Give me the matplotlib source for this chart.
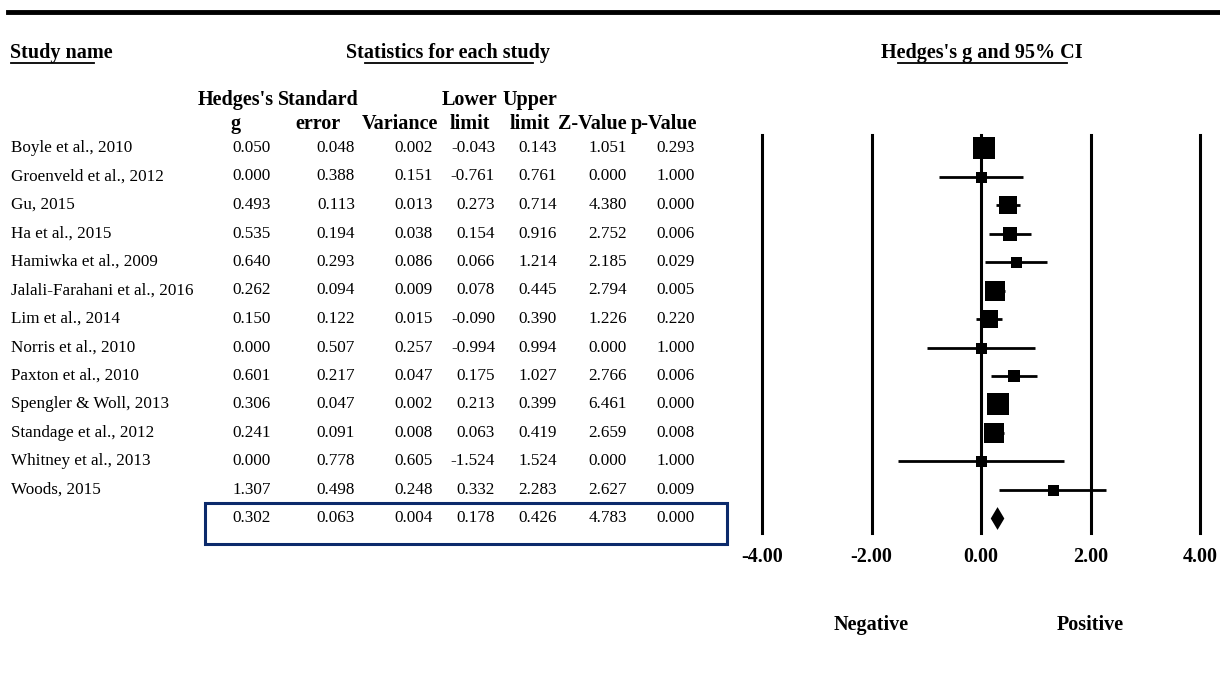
import numpy as np
import matplotlib
matplotlib.use("Agg")
import matplotlib.pyplot as plt
from matplotlib.lines import Line2D
from matplotlib.patches import Rectangle
from matplotlib.transforms import blended_transform_factory

# study level data
studies = ["Boyle et al., 2010", "Groenveld et al., 2012", "Gu, 2015", "Ha et al., 2015",
           "Hamiwka et al., 2009", "Jalali-Farahani et al., 2016", "Lim et al., 2014",
           "Norris et al., 2010", "Paxton et al., 2010", "Spengler & Woll, 2013",
           "Standage et al., 2012", "Whitney et al., 2013", "Woods, 2015"]
hedges_g = [0.050, 0.000, 0.493, 0.535, 0.640, 0.262, 0.150, 0.000, 0.601, 0.306, 0.241, 0.000, 1.307]
std_err = [0.048, 0.388, 0.113, 0.194, 0.293, 0.094, 0.122, 0.507, 0.217, 0.047, 0.091, 0.778, 0.498]
variance = [0.002, 0.151, 0.013, 0.038, 0.086, 0.009, 0.015, 0.257, 0.047, 0.002, 0.008, 0.605, 0.248]
lower = [-0.043, -0.761, 0.273, 0.154, 0.066, 0.078, -0.090, -0.994, 0.175, 0.213, 0.063, -1.524, 0.332]
upper = [0.143, 0.761, 0.714, 0.916, 1.214, 0.445, 0.390, 0.994, 1.027, 0.399, 0.419, 1.524, 2.283]
z_value = [1.051, 0.000, 4.380, 2.752, 2.185, 2.794, 1.226, 0.000, 2.766, 6.461, 2.659, 0.000, 2.627]
p_value = [0.293, 1.000, 0.000, 0.006, 0.029, 0.005, 0.220, 1.000, 0.006, 0.000, 0.008, 1.000, 0.009]
# pooled row: g, se, var, lower, upper, z, p
summary = [0.302, 0.063, 0.004, 0.178, 0.426, 4.783, 0.000]

col_heads = [("Hedges's", "g"), ("Standard", "error"), ("", "Variance"), ("Lower", "limit"),
             ("Upper", "limit"), ("", "Z-Value"), ("", "p-Value")]
ticks = [-4, -2, 0, 2, 4]
tick_labels = ["-4.00", "-2.00", "0.00", "2.00", "4.00"]

W, H = 1220, 695
def fx(px):
    return px / W
def fy(py):
    return 1 - py / H

plt.rcParams["font.family"] = ["Liberation Serif", "DejaVu Serif"]
fs_data = 12.3
fs_head = 14.5

fig = plt.figure(figsize=(12.2, 6.95), dpi=100)

# forest plot axes, rows are 0..13 (13 = pooled)
y_top, y_bot, row0, row_h = 135, 533, 148, 28.5
ax = fig.add_axes([fx(762), fy(y_bot), fx(1200) - fx(762), (y_bot - y_top) / H])
ax.set_xlim(-4, 4)
ax.set_ylim((y_bot - row0) / row_h, (y_top - row0) / row_h)
for s in ax.spines.values():
    s.set_visible(False)
ax.set_yticks([])
ax.set_xticks(ticks)
ax.set_xticklabels(tick_labels, fontweight="bold", fontsize=fs_head)
ax.tick_params(axis="x", length=0, pad=10)
for t in ticks:
    ax.axvline(t, color="k", lw=2.2, clip_on=False)

rows = np.arange(len(studies))
g = np.array(hedges_g)
se = np.array(std_err)

# random-effects (DerSimonian-Laird) weights set the square sizes
w = 1 / se**2
mu = np.sum(w * g) / w.sum()
Q = np.sum(w * (g - mu)**2)
tau2 = max(0, (Q - (len(g) - 1)) / (w.sum() - np.sum(w**2) / w.sum()))
w_re = 1 / (se**2 + tau2)
side_px = np.maximum(11, 3.4 * np.sqrt(w_re))

ax.hlines(rows, lower, upper, color="k", lw=2)
for i in rows:
    ax.plot(g[i], i, marker="s", ms=side_px[i] * 0.72, color="k", mew=0, ls="none")

n = len(studies)
ax.fill([summary[3], summary[0], summary[4], summary[0]],
        [n, n - 0.4, n, n + 0.4], color="k", lw=0)

ax.text(-2, n + 3.75, "Negative", ha="center", va="center", fontweight="bold", fontsize=fs_head)
ax.text(2, n + 3.75, "Positive", ha="center", va="center", fontweight="bold", fontsize=fs_head)

# table on the left
trans = blended_transform_factory(fig.transFigure, ax.transData)
col_right = [271, 355, 433, 495, 557, 627, 695]
col_center = [236, 318, 400, 470, 530, 592, 664]

for i, name in enumerate(studies):
    fig.text(fx(11), i, name, transform=trans, ha="left", va="center", fontsize=fs_data)
    vals = [hedges_g[i], std_err[i], variance[i], lower[i], upper[i], z_value[i], p_value[i]]
    for x, v in zip(col_right, vals):
        fig.text(fx(x), i, f"{v:.3f}", transform=trans, ha="right", va="center", fontsize=fs_data)
for x, v in zip(col_right, summary):
    fig.text(fx(x), n, f"{v:.3f}", transform=trans, ha="right", va="center", fontsize=fs_data)

fig.add_artist(Rectangle((fx(205), fy(544)), fx(727) - fx(205), (544 - 503) / H,
                         fill=False, edgecolor="#0b2a6b", lw=2.2, transform=fig.transFigure))

# headers
for x, (h1, h2) in zip(col_center, col_heads):
    fig.text(fx(x), fy(100), h1, ha="center", va="center", fontweight="bold", fontsize=fs_head)
    fig.text(fx(x), fy(124), h2, ha="center", va="center", fontweight="bold", fontsize=fs_head)

fig.text(fx(10), fy(53), "Study name", ha="left", va="center", fontweight="bold", fontsize=fs_head)
fig.text(fx(448), fy(53), "Statistics for each study", ha="center", va="center",
         fontweight="bold", fontsize=fs_head)
fig.text(fx(982), fy(53), "Hedges's g and 95% CI", ha="center", va="center",
         fontweight="bold", fontsize=fs_head)
for a, b in [(11, 94), (365, 533), (898, 1067)]:
    fig.add_artist(Line2D([fx(a), fx(b)], [fy(63), fy(63)], color="k", lw=1.3))

fig.add_artist(Line2D([fx(8), 1], [fy(12), fy(12)], color="k", lw=3.5))

fig.savefig("out.png", dpi=100)
